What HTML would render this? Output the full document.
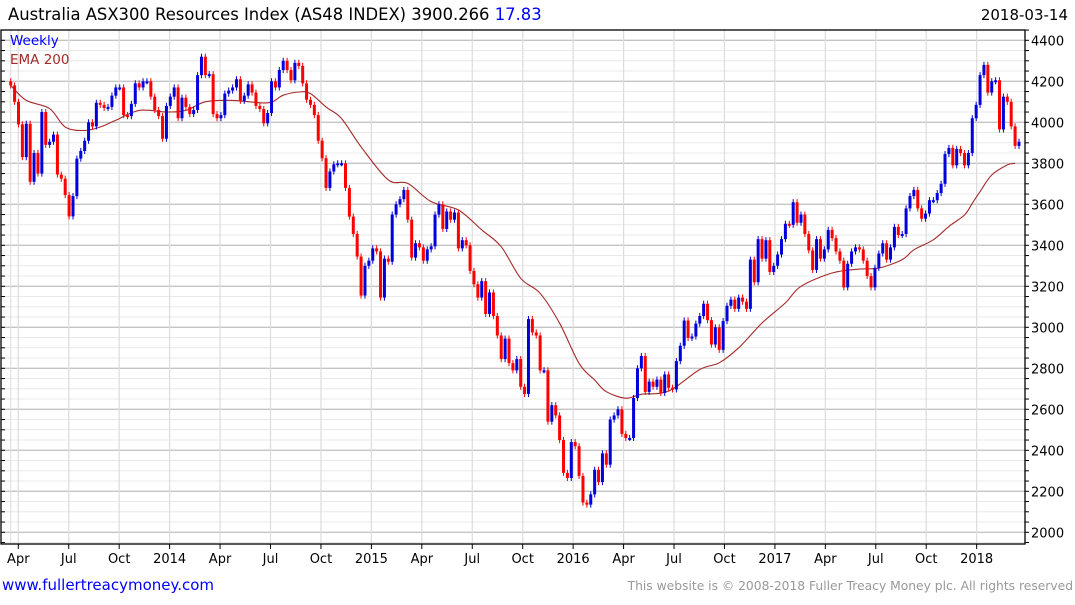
<!DOCTYPE html>
<html><head><meta charset="utf-8"><style>
body{margin:0;background:#fff;width:1075px;height:600px;overflow:hidden;font-family:"Liberation Sans","DejaVu Sans",sans-serif}
svg text{font-family:"DejaVu Sans","Liberation Sans",sans-serif}
</style></head><body>
<svg id="chart" width="1075" height="600" xmlns="http://www.w3.org/2000/svg">
<text x="8" y="20" font-size="16.4" fill="#000">Australia ASX300 Resources Index (AS48 INDEX) 3900.266 <tspan fill="#0000ff">17.83</tspan></text>
<text x="1068" y="20" font-size="15" text-anchor="end" fill="#000">2018-03-14</text>
<g id="grid"></g>
<g id="ema"></g>
<g id="candles"></g>
<g id="axes"></g>
<text x="10" y="45" font-size="13.5" fill="#0000ff">Weekly</text>
<text x="10" y="64" font-size="13.5" fill="#a52a2a">EMA 200</text>
<text x="2" y="590" font-size="15" fill="#0000ff">www.fullertreacymoney.com</text>
<text x="1073" y="590" font-size="12.3" text-anchor="end" fill="#999">This website is © 2008-2018 Fuller Treacy Money plc. All rights reserved</text>
</svg>
<script>
const closes=[4180,4100,3990,3830,3993,3710,3850,3750,4050,3890,3905,3940,3745,3725,3645,3541,3640,3823,3860,3910,4000,3980,4095,4085,4070,4075,4130,4170,4170,4035,4030,4090,4190,4170,4200,4200,4125,4060,4030,3920,4080,4125,4170,4020,4120,4075,4040,4060,4230,4320,4230,4235,4040,4020,4035,4140,4155,4170,4210,4105,4130,4185,4145,4080,4065,3995,4045,4200,4170,4255,4300,4255,4205,4290,4275,4190,4110,4085,4035,3910,3825,3680,3760,3795,3800,3800,3680,3540,3455,3345,3155,3300,3325,3385,3370,3145,3335,3320,3550,3600,3625,3670,3525,3340,3410,3390,3325,3380,3395,3550,3600,3480,3565,3525,3560,3385,3425,3400,3275,3210,3145,3225,3065,3170,3055,2960,2845,2945,2825,2790,2845,2710,2675,3040,2975,2960,2790,2790,2540,2620,2570,2450,2290,2265,2440,2420,2275,2145,2135,2185,2305,2245,2385,2330,2550,2570,2600,2480,2460,2460,2655,2800,2860,2685,2735,2710,2745,2680,2770,2705,2697,2835,2910,3033,2948,2955,3018,3055,3115,3035,2916,3000,2890,3030,3105,3135,3090,3145,3125,3090,3330,3220,3430,3335,3425,3270,3300,3355,3430,3505,3500,3610,3510,3550,3455,3375,3280,3430,3335,3380,3475,3435,3370,3325,3195,3310,3370,3390,3380,3325,3250,3195,3290,3360,3410,3330,3390,3490,3450,3455,3580,3640,3670,3580,3530,3555,3620,3620,3655,3700,3845,3875,3790,3870,3850,3790,3850,4020,4085,4230,4280,4145,4200,4205,3965,4125,4100,3980,3885,3905];
const firstOpen=4200;
const emaIdx=[0,4,10,14,19,23,27,33,40,45,50,57,66,70,74,77,81,85,90,97,102,108,115,121,126,131,136,141,146,150,153,158,162,169,177,182,187,193,199,203,211,218,223,229,232,237,241,245,247,249,252,256,258];
const emaVal=[4180,4107,4067,3977,3960,3977,4010,4058,4050,4058,4100,4107,4095,4132,4148,4140,4075,4018,3880,3719,3702,3613,3572,3475,3393,3239,3166,3020,2824,2743,2686,2654,2673,2689,2794,2827,2900,3021,3119,3200,3265,3284,3289,3330,3378,3427,3492,3548,3605,3662,3743,3792,3800];
const yTicks=[2000,2200,2400,2600,2800,3000,3200,3400,3600,3800,4000,4200,4400];
const xLabels=["Apr","Jul","Oct","2014","Apr","Jul","Oct","2015","Apr","Jul","Oct","2016","Apr","Jul","Oct","2017","Apr","Jul","Oct","2018"];

const NS="http://www.w3.org/2000/svg";
const L=1,R=1025,T=30,B=544;
const y=v=>40.3+(4400-v)*41/200;
const x=i=>10.7+i*3.893;
const qx=q=>18.3+q*50.44;
function mk(tag,attrs,parent){const e=document.createElementNS(NS,tag);for(const k in attrs)e.setAttribute(k,attrs[k]);parent.appendChild(e);return e;}
const grid=document.getElementById('grid'),axes=document.getElementById('axes'),cg=document.getElementById('candles'),eg=document.getElementById('ema');
for(let v=1950;v<=4450;v+=50){const yy=y(v);if(yy<T||yy>B)continue;
 const major=v%200===0;
 const ln=mk('line',{x1:L,x2:R,y1:yy,y2:yy,stroke:major?'#c4c4c4':'#e8e8e8','stroke-width':major?1.3:1},grid);
 
 
 const tk=mk('line',{x1:R,x2:R+4,y1:yy,y2:yy,stroke:'#000'},axes);
 
 
 const tl=mk('line',{x1:L,x2:L+4,y1:yy,y2:yy,stroke:'#000'},axes);
 
 
}
yTicks.forEach(v=>{const t=mk('text',{x:1031,y:y(v)+5,'font-size':13,fill:'#000'},axes);t.textContent=v;
 
 });
const g0=mk('line',{x1:10.7,x2:10.7,y1:T,y2:B,stroke:'#dcdcdc'},grid);


xLabels.forEach((s,q)=>{const xx=qx(q);
 const ln=mk('line',{x1:xx,x2:xx,y1:T,y2:B,stroke:'#dcdcdc','stroke-width':1.2},grid);
 
 
 const tk=mk('line',{x1:xx,x2:xx,y1:B,y2:B+5,stroke:'#000'},axes);
 
 
 const t=mk('text',{x:xx,y:563,'font-size':13,'text-anchor':'middle',fill:'#000'},axes);t.textContent=s;
 
 });
const box=mk('rect',{x:L,y:T,width:R-L,height:B-T,fill:'none',stroke:'#000','stroke-width':1.3},axes);


// EMA (Catmull-Rom smoothing)
const P=emaIdx.map((i,k)=>[x(i),y(emaVal[k])]);
let d='M'+P[0][0].toFixed(1)+','+P[0][1].toFixed(1);
for(let k=0;k<P.length-1;k++){const p0=P[Math.max(0,k-1)],p1=P[k],p2=P[k+1],p3=P[Math.min(P.length-1,k+2)];
 const c1=[p1[0]+(p2[0]-p0[0])/6,p1[1]+(p2[1]-p0[1])/6],c2=[p2[0]-(p3[0]-p1[0])/6,p2[1]-(p3[1]-p1[1])/6];
 d+='C'+c1.map(n=>n.toFixed(1)).join(',')+' '+c2.map(n=>n.toFixed(1)).join(',')+' '+p2.map(n=>n.toFixed(1)).join(',');}
const ep=mk('path',{d:d,fill:'none',stroke:'#a52a2a','stroke-width':1.1},eg);


closes.forEach((c,i)=>{const o=i?closes[i-1]:firstOpen;const up=c>=o;const col=up?'#0000dd':'#ff0000';
 const hi=Math.max(o,c)+15,lo=Math.min(o,c)-15;const xx=x(i);
 const w=mk('line',{x1:xx,x2:xx,y1:y(hi),y2:y(lo),stroke:col,'stroke-width':1},cg);
 
 
 const top=y(Math.max(o,c)),h=Math.max(2,y(Math.min(o,c))-top);
 const r=mk('rect',{x:xx-1.5,y:top,width:3,height:h,fill:col},cg);
 
 
});
</script>
</body></html>
